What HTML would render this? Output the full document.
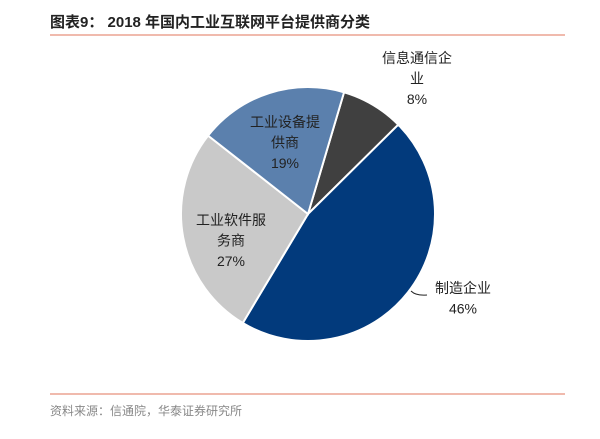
<!DOCTYPE html>
<html><head><meta charset="utf-8"><style>
body{margin:0;background:#fff;}
svg text{font-family:"Liberation Sans","Noto Sans CJK SC",sans-serif;}
</style></head><body>
<svg width="600" height="434" viewBox="0 0 600 434">
<text x="50" y="27" font-size="15" font-weight="bold" fill="#222">图表9：  2018 年国内工业互联网平台提供商分类</text>
<line x1="50" y1="35" x2="565" y2="35" stroke="#e8907c" stroke-width="1.2"/>
<g id="slices"></g>
<g id="labels"></g>
<line x1="50" y1="394" x2="565" y2="394" stroke="#e8907c" stroke-width="1.2"/>
<text x="50" y="415" font-size="12" fill="#888">资料来源：信通院，华泰证券研究所</text>
</svg>
<script>
const categories=["信息通信企业","制造企业","工业软件服务商","工业设备提供商"];
const values=[8,46,27,19];
const colors=["#404040","#023a7c","#c9c9c9","#5b80ad"];
const labelLines=[["信息通信企","业","8%"],["制造企业","46%"],["工业软件服","务商","27%"],["工业设备提","供商","19%"]];
const labelPos=[[417,63],[463,293],[231,225],[285,127]];
const cx=308,cy=214,r=127,startDeg=16.5;
const ns="http://www.w3.org/2000/svg";
const total=values.reduce((a,b)=>a+b,0);
const g=document.getElementById('slices'),lg=document.getElementById('labels');
function pt(a){const t=a*Math.PI/180;return [cx+r*Math.sin(t),cy-r*Math.cos(t)];}
let a0=startDeg;
values.forEach((v,i)=>{
  const a1=a0+v/total*360;const p0=pt(a0),p1=pt(a1);const large=(a1-a0)>180?1:0;
  const p=document.createElementNS(ns,'path');
  p.setAttribute('d',`M${cx},${cy}L${p0[0]},${p0[1]}A${r},${r} 0 ${large} 1 ${p1[0]},${p1[1]}Z`);
  p.setAttribute('fill',colors[i]);p.setAttribute('stroke','#fff');p.setAttribute('stroke-width','2');
  
  
  g.appendChild(p);a0=a1;
});
labelLines.forEach((lines,i)=>{
  const t=document.createElementNS(ns,'text');
  t.setAttribute('text-anchor','middle');t.setAttribute('font-size','14');t.setAttribute('fill','#222');
  
  
  lines.forEach((s,j)=>{const ts=document.createElementNS(ns,'tspan');ts.setAttribute('x',labelPos[i][0]);ts.setAttribute('y',labelPos[i][1]+j*20.5);ts.textContent=s;t.appendChild(ts);});
  lg.appendChild(t);
});
const ll=document.createElementNS(ns,'path');
ll.setAttribute('d','M411,291 Q416,296 427,295');ll.setAttribute('fill','none');ll.setAttribute('stroke','#222');ll.setAttribute('stroke-width','1');


lg.appendChild(ll);
</script>
</body></html>
